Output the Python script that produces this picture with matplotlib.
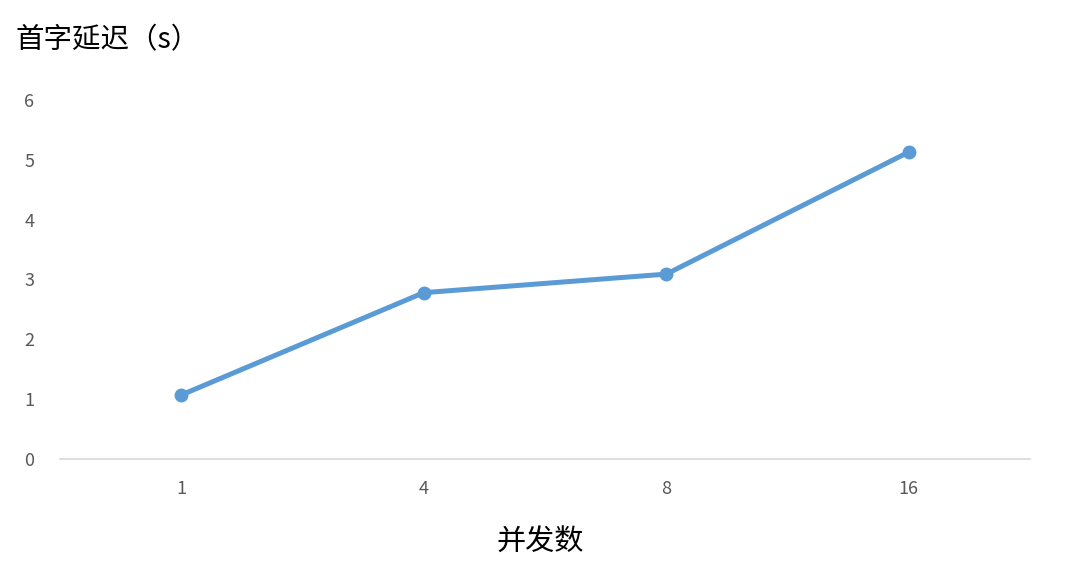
import matplotlib.pyplot as plt

plt.rcParams["font.family"] = ["Noto Sans CJK SC", "DejaVu Sans"]

# data
concurrency = ["1", "4", "8", "16"]
latency_s = [1.07, 2.78, 3.09, 5.13]
yticks = [0, 1, 2, 3, 4, 5, 6]

LINE_COLOR = "#5B9BD5"
TICK_COLOR = "#595959"

fig = plt.figure(figsize=(10.8, 5.77), dpi=100)
ax = fig.add_axes([60 / 1080, 1 - 459 / 577, 970 / 1080, 359 / 577])

x = list(range(len(concurrency)))
ax.plot(x, latency_s, color=LINE_COLOR, linewidth=3.6,
        marker="o", markersize=9, solid_capstyle="round")

ax.set_xlim(-0.5, len(concurrency) - 0.5)
ax.set_ylim(0, 6)
ax.set_xticks(x, labels=concurrency)
ax.set_yticks(yticks)

ax.tick_params(axis="both", length=0, labelsize=13, labelcolor=TICK_COLOR)
ax.tick_params(axis="x", pad=15)
ax.tick_params(axis="y", pad=22)
for lab in ax.get_yticklabels():
    lab.set_horizontalalignment("center")

ax.spines[["top", "right", "left"]].set_visible(False)
ax.spines["bottom"].set_color("#D9D9D9")
ax.spines["bottom"].set_linewidth(1.2)

fig.text(15 / 1080, 1 - 40 / 577, "首字延迟（s）", fontsize=20.5,
         ha="left", va="center", color="#000000")
fig.text(540 / 1080, 1 - 542 / 577, "并发数", fontsize=21,
         ha="center", va="center", color="#000000")

fig.savefig("out.png", dpi=100)
